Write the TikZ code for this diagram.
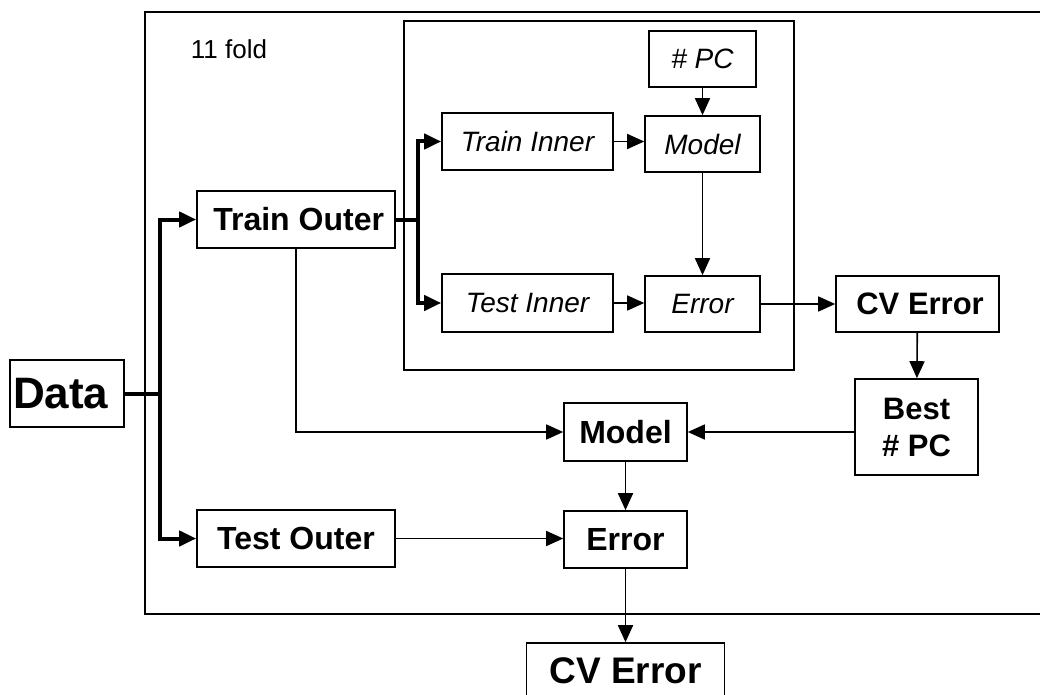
\documentclass[tikz,border=0pt]{standalone}
\usepackage{fontspec}
\setmainfont{Liberation Sans}
\usetikzlibrary{arrows.meta}

\tikzset{
    box/.style={draw, line width=1.6pt, inner sep=0pt, align=center,
        font=\fontsize{32}{37}\selectfont\bfseries},
    ibox/.style={box, font=\fontsize{28}{32}\selectfont\itshape},
    arr/.style={-{Triangle[length=17pt, width=15pt]}, line width=1.6pt},
    fatarr/.style={arr, line width=4pt},
    frame/.style={line width=2pt},
}

\begin{document}
\begin{tikzpicture}[x=1pt, y=-1pt]
    \useasboundingbox (0,0) rectangle (1040,695);

    % frames
    \draw[frame] (1060,12) -| (145,614) -- (1060,614);
    \draw[frame] (404,21) rectangle (794,370);
    \node[font=\fontsize{26}{30}\selectfont] (fold) at (229,49) {11 fold};

    % outer loop
    \node[box, text width=108, inner xsep=3, align=left, minimum height=67,
        font=\fontsize{44}{50}\selectfont\bfseries] (data) at (67,393.5) {Data};
    \node[box, minimum width=198, minimum height=57] (trainOut) at (296,219.5) {\,Train Outer};
    \node[box, minimum width=198, minimum height=57] (testOut) at (296,538.5) {Test Outer};
    \node[box, minimum width=123, minimum height=58] (modelOut) at (625.5,432) {Model};
    \node[box, minimum width=123, minimum height=57] (errOut) at (625.5,539.5) {Error};
    \node[box, minimum width=198, minimum height=56,
        font=\fontsize{37}{42}\selectfont\bfseries] (cvOut) at (625.5,671) {CV Error};

    % inner loop
    \node[ibox, minimum width=107, minimum height=56] (pcIn) at (702.5,59) {\# PC};
    \node[ibox, minimum width=171, minimum height=57] (trainIn) at (527.5,141.5) {Train Inner};
    \node[ibox, minimum width=115, minimum height=56] (modelIn) at (702.5,144) {Model};
    \node[ibox, minimum width=171, minimum height=58] (testIn) at (527.5,303) {Test Inner};
    \node[ibox, minimum width=115, minimum height=56] (errIn) at (702.5,304) {Error};

    \node[box, minimum width=163, minimum height=56,
        font=\fontsize{31}{36}\selectfont\bfseries] (cvIn) at (917.5,304) {\,CV Error};
    \node[box, minimum width=123, minimum height=96,
        font=\fontsize{31}{37}\selectfont\bfseries] (best) at (916.5,427) {Best\\\# PC};

    % splits
    \coordinate (splitA) at (160,393.5);
    \coordinate (splitB) at (418,219.5);
    \draw[line width=4pt] (data.east) -- (splitA);
    \draw[fatarr] (splitA) |- (trainOut.west);
    \draw[fatarr] (splitA) |- (testOut.west);
    \draw[line width=4pt] (trainOut.east) -- (splitB);
    \draw[fatarr] (splitB) |- (trainIn.west);
    \draw[fatarr] (splitB) |- (testIn.west);

    % connectors
    \draw[arr] (trainIn) -- (trainIn -| modelIn.west);
    \draw[arr] (pcIn) -- (modelIn);
    \draw[arr] (modelIn) -- (errIn);
    \draw[arr] (testIn) -- (testIn -| errIn.west);
    \draw[arr] (errIn) -- (cvIn);
    \draw[arr] (cvIn) -- (best);
    \draw[arr] (modelOut -| best.west) -- (modelOut.east);
    \draw[arr] (trainOut.south) |- (modelOut.west);
    \draw[arr] (modelOut) -- (errOut);
    \draw[arr] (testOut.east) -- (testOut -| errOut.west);
    \draw[arr] (errOut) -- (cvOut);
\end{tikzpicture}
\end{document}
